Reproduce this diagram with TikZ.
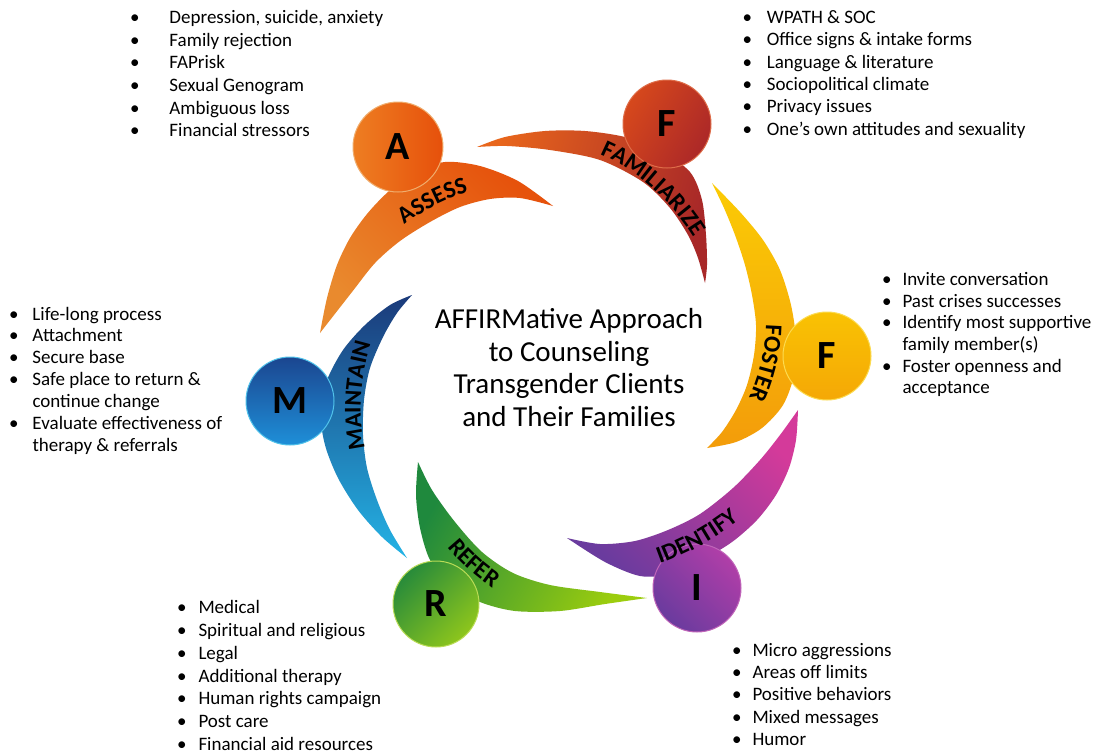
\documentclass[tikz,border=0pt]{standalone}
\usepackage{fontspec}
\setmainfont{Carlito}
\usetikzlibrary{decorations.text}

% colours of the six stages
\definecolor{assessA}{HTML}{E98A2E}\definecolor{assessB}{HTML}{E6520C}
\definecolor{assessBallA}{HTML}{EE7E22}\definecolor{assessBallB}{HTML}{E6500B}
\definecolor{famA}{HTML}{E8661C}\definecolor{famB}{HTML}{A82828}
\definecolor{famBallA}{HTML}{D6481C}\definecolor{famBallB}{HTML}{AC2828}
\definecolor{fosA}{HTML}{FBCB05}\definecolor{fosB}{HTML}{F39C0A}
\definecolor{fosBallA}{HTML}{F9C203}\definecolor{fosBallB}{HTML}{F5A806}
\definecolor{idA}{HTML}{D43A9A}\definecolor{idB}{HTML}{6A3B9E}
\definecolor{idBallA}{HTML}{B03EA8}\definecolor{idBallB}{HTML}{6A3B9E}
\definecolor{refA}{HTML}{1F893D}\definecolor{refB}{HTML}{9CCD0E}
\definecolor{refBallA}{HTML}{288B3A}\definecolor{refBallB}{HTML}{8EC61C}
\definecolor{mainA}{HTML}{1B3A7A}\definecolor{mainB}{HTML}{24B3E5}
\definecolor{mainBallA}{HTML}{1B4690}\definecolor{mainBallB}{HTML}{1E8FD8}

\newcommand\ballfont{\bfseries\fontsize{40}{40}\selectfont}
\newcommand\lblfont{\bfseries\fontsize{24}{24}\selectfont}
\newlength\bulw
\newcommand\bul{\makebox[\bulw][l]{\textbullet}}
% bullet list: #1 bullet-to-text width, #2 line pitch, #3 rows
\newcommand\itemlist[3]{\setlength\bulw{#1}\fontsize{19}{#2}\selectfont
  \begin{tabular}[t]{@{}l@{}l@{}}#3\end{tabular}}

\tikzset{
  blade/.style={shade},
  ball/.style={circle, shade, inner sep=0pt, minimum size=#1, font=\ballfont, text=black},
  ball/.default=88pt,
  listnode/.style={inner sep=0pt, anchor=base west, text=black},
  lbl/.style={decorate, decoration={text along path, text={|\lblfont|#1}, text align=center}},
}

\begin{document}
\begin{tikzpicture}[x=1pt, y=-1pt]
\useasboundingbox (0,0) rectangle (1097,755);
\fill[white] (0,0) rectangle (1097,755);

% ---- blades ----
% Assess
\path[blade, top color=assessA, bottom color=assessB, shading angle=135]
  plot[smooth] coordinates {(320,333) (327,298) (337,265) (350,238) (367,214) (388,192) (415,172) (445,162) (480,166) (518,181) (553,206)}
  -- plot[smooth] coordinates {(553,206) (520,198) (490,199) (460,207) (430,222) (400,241) (375,263) (352,292) (320,333)} -- cycle;
% Familiarize
\path[blade, top color=famA, bottom color=famB, shading angle=75]
  plot[smooth] coordinates {(477,147) (505,137) (545,131) (585,131) (625,137) (660,150) (690,172) (702,200) (706,235) (707,265) (705,283)}
  -- plot[smooth] coordinates {(705,283) (698,258) (688,235) (670,208) (643,182) (600,160) (550,150) (507,146) (477,147)} -- cycle;
% Foster
\path[blade, top color=fosA, bottom color=fosB]
  plot[smooth] coordinates {(712,183) (740,212) (763,240) (780,270) (791,305) (796,340) (794,375) (783,405) (762,428) (736,442) (707,448)}
  -- plot[smooth] coordinates {(707,448) (722,432) (736,410) (747,385) (754,355) (756,325) (752,295) (745,265) (735,235) (724,208) (712,183)} -- cycle;
% Identify
\path[blade, top color=idA, bottom color=idB, shading angle=-45]
  plot[smooth] coordinates {(798,410) (796,440) (789,468) (776,495) (757,520) (732,542) (702,560) (670,574) (640,576) (605,562) (567,538)}
  -- plot[smooth] coordinates {(567,538) (600,544) (635,541) (668,530) (700,514) (733,488) (760,460) (780,435) (798,410)} -- cycle;
% Refer
\path[blade, top color=refA, bottom color=refB, shading angle=60]
  plot[smooth] coordinates {(418,462) (416,495) (420,528) (430,560) (450,585) (480,602) (515,611) (560,611) (605,604) (647,598)}
  -- plot[smooth] coordinates {(647,598) (600,592) (550,585) (513,573) (482,552) (455,522) (432,490) (418,462)} -- cycle;
% Maintain
\path[blade, top color=mainA, bottom color=mainB]
  plot[smooth] coordinates {(412,295) (390,305) (365,325) (343,350) (327,380) (320,410) (325,445) (338,478) (358,510) (382,537) (407,558)}
  -- plot[smooth] coordinates {(407,558) (390,530) (377,500) (367,468) (363,435) (364,400) (370,368) (383,337) (397,313) (412,295)} -- cycle;

% ---- balls ----
\node[ball=90pt, top color=assessBallA, bottom color=assessBallB, shading angle=90, draw=assessA!70!white, line width=1pt] (A) at (398,147) {A};
\node[ball, top color=famBallA, bottom color=famBallB, shading angle=60, draw=famBallA!80!white, line width=1pt] (F1) at (667,124) {F};
\node[ball, top color=fosBallA, bottom color=fosBallB, draw=fosA!70!white, line width=1pt] (F2) at (827,356) {F};
\node[ball, top color=idBallA, bottom color=idBallB, shading angle=-45, draw=idBallA!80!white, line width=1pt] (I) at (697,588) {I};
\node[ball=86pt, top color=refBallA, bottom color=refBallB, shading angle=45, draw=refB!70!white, line width=1pt] (R) at (436,604) {R};
\node[ball, top color=mainBallA, bottom color=mainBallB, draw=mainB!80!white, line width=1pt] (M) at (290,401) {M};

% ---- labels along the blades ----
\path[lbl=ASSESS] (392,236) .. controls (418,212) and (448,196) .. (485,188);
\path[lbl=FAMILIARIZE] (588,150) .. controls (628,163) and (675,200) .. (700,248);
\path[lbl=FOSTER] (765,305) .. controls (769,338) and (761,378) .. (740,415);
\path[lbl=IDENTIFY] (641,570) .. controls (676,560) and (716,542) .. (754,507);
\path[lbl=REFER] (437,532) .. controls (450,555) and (475,578) .. (508,598);
\path[lbl=MAINTAIN] (372,470) .. controls (356,430) and (356,380) .. (378,322);

% ---- title ----
\node[inner sep=0pt, anchor=base] (title) at (569,328.3)
  {\fontsize{29}{32.8}\selectfont\begin{tabular}[t]{@{}c@{}}AFFIRMative Approach\\ to Counseling\\ Transgender Clients\\ and Their Families\end{tabular}};

% ---- bullet lists ----
\node[listnode] (assessList) at (130,23.3) {\itemlist{39.3pt}{22.7pt}{%
  \bul & Depression, suicide, anxiety\\
  \bul & Family rejection\\
  \bul & FAPrisk\\
  \bul & Sexual Genogram\\
  \bul & Ambiguous loss\\
  \bul & Financial stressors}};

\node[listnode] (famList) at (742.5,23.3) {\itemlist{24.2pt}{22.4pt}{%
  \bul & WPATH \& SOC\\
  \bul & Office signs \& intake forms\\
  \bul & Language \& literature\\
  \bul & Sociopolitical climate\\
  \bul & Privacy issues\\
  \bul & One’s own attitudes and sexuality}};

\node[listnode] (fosList) at (882,285.3) {\itemlist{20.3pt}{21.7pt}{%
  \bul & Invite conversation\\
  \bul & Past crises successes\\
  \bul & Identify most supportive\\
       & family member(s)\\
  \bul & Foster openness and\\
       & acceptance}};

\node[listnode] (idList) at (732,656.7) {\itemlist{20.3pt}{22.1pt}{%
  \bul & Micro aggressions\\
  \bul & Areas off limits\\
  \bul & Positive behaviors\\
  \bul & Mixed messages\\
  \bul & Humor}};

\node[listnode] (refList) at (177,613.7) {\itemlist{21.3pt}{22.8pt}{%
  \bul & Medical\\
  \bul & Spiritual and religious\\
  \bul & Legal\\
  \bul & Additional therapy\\
  \bul & Human rights campaign\\
  \bul & Post care\\
  \bul & Financial aid resources}};

\node[listnode] (mainList) at (9,320) {\itemlist{23.3pt}{21.9pt}{%
  \bul & Life-long process\\
  \bul & Attachment\\
  \bul & Secure base\\
  \bul & Safe place to return \&\\
       & continue change\\
  \bul & Evaluate effectiveness of\\
       & therapy \& referrals}};
\end{tikzpicture}
\end{document}
